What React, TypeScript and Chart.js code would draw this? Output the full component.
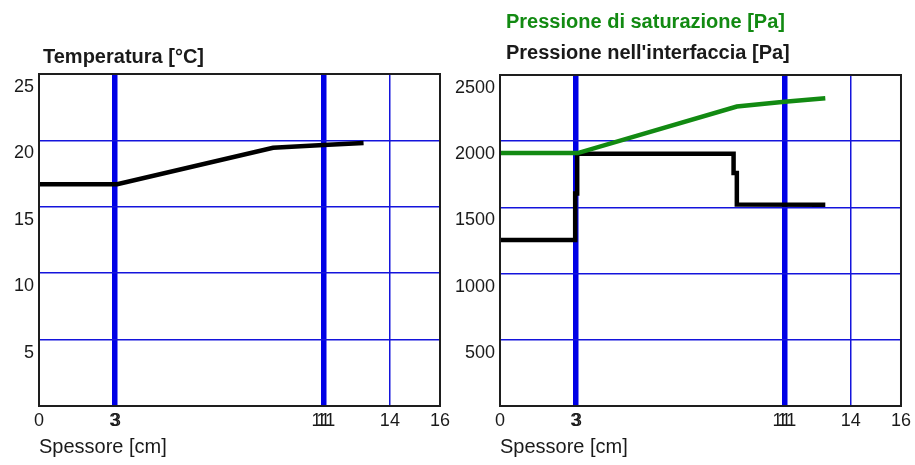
import React, { useEffect, useRef } from 'react';
import { Chart, registerables } from 'chart.js';

Chart.register(...registerables);

// ---- data ----
const xTickValues = [0, 3.0, 3.04, 3.07, 11.25, 11.35, 11.45, 14, 16];
const xTickLabels = ['0', '3', '', '3', '11', '', '11', '14', '16'];
const layerLines = [3.04, 11.35];
const thinGrid = [14];

const tempX = [0, 3.0, 3.12, 9.34, 11.35, 12.95];
const tempY = [16.7, 16.7, 16.7, 19.45, 19.65, 19.8];

const satX = [0, 3.1, 9.45, 11.35, 12.98];
const satY = [1910, 1910, 2262, 2298, 2325];

const ifaceX = [0, 3.0, 3.0, 3.08, 3.08, 9.32, 9.32, 9.45, 9.45, 12.98];
const ifaceY = [1253, 1253, 1605, 1605, 1905, 1905, 1760, 1760, 1522, 1520];

const tempTicks = [0, 5, 10, 15, 20, 25];
const pressTicks = [0, 500, 1000, 1500, 2000, 2500];

const FONT = '"Liberation Sans", Arial, sans-serif';
const TEXT = '#1a1a1a';
const GREEN = '#128a12';
const BLUE_THIN = '#1414dc';
const BLUE_THICK = '#0000e6';

const framePlugin = {
  id: 'frame',
  afterDatasetsDraw(chart: any) {
    const { ctx, chartArea: a } = chart;
    ctx.save();
    ctx.strokeStyle = '#1e1e1e';
    ctx.lineWidth = 2;
    ctx.strokeRect(a.left, a.top, a.right - a.left, a.bottom - a.top);
    ctx.restore();
  },
};

function pts(xs: number[], ys: number[]) {
  return xs.map((x, i) => ({ x, y: ys[i] }));
}

function makeConfig(
  datasets: any[],
  yTicks: number[],
  yWidth: number,
  padTop: number,
  padRight: number
): any {
  return {
    type: 'line',
    data: { datasets },
    options: {
      responsive: false,
      animation: false,
      devicePixelRatio: 1,
      layout: { padding: { top: padTop, right: padRight, left: 0, bottom: 0 } },
      plugins: { legend: { display: false }, tooltip: { enabled: false } },
      elements: { point: { radius: 0 }, line: { tension: 0 } },
      scales: {
        x: {
          type: 'linear',
          min: 0,
          max: 16,
          afterBuildTicks: (s: any) => {
            s.ticks = xTickValues.map((v) => ({ value: v }));
          },
          afterFit: (s: any) => {
            s.height = 59;
          },
          ticks: {
            autoSkip: false,
            maxRotation: 0,
            minRotation: 0,
            padding: 4,
            color: TEXT,
            font: { family: FONT, size: 18 },
            callback: (_v: any, i: number) => xTickLabels[i],
          },
          grid: {
            drawTicks: false,
            color: (c: any) => {
              const v = c.tick && c.tick.value;
              if (layerLines.includes(v)) return BLUE_THICK;
              if (thinGrid.includes(v)) return BLUE_THIN;
              return 'rgba(0,0,0,0)';
            },
            lineWidth: (c: any) => {
              const v = c.tick && c.tick.value;
              return layerLines.includes(v) ? 5.5 : 1.5;
            },
          },
          border: { display: false },
          title: {
            display: true,
            text: 'Spessore [cm]',
            align: 'start',
            color: TEXT,
            font: { family: FONT, size: 20 },
            padding: { top: 0, bottom: 6 },
          },
        },
        y: {
          type: 'linear',
          min: yTicks[0],
          max: yTicks[yTicks.length - 1],
          afterBuildTicks: (s: any) => {
            s.ticks = yTicks.map((v) => ({ value: v }));
          },
          afterFit: (s: any) => {
            s.width = yWidth;
          },
          ticks: {
            padding: 5,
            labelOffset: 13,
            color: TEXT,
            font: { family: FONT, size: 18 },
            callback: (v: any) => (v === 0 ? '' : String(v)),
          },
          grid: {
            drawTicks: false,
            color: (c: any) => {
              const v = c.tick && c.tick.value;
              if (v === yTicks[0] || v === yTicks[yTicks.length - 1]) return 'rgba(0,0,0,0)';
              return BLUE_THIN;
            },
            lineWidth: 1.5,
          },
          border: { display: false },
        },
      },
    },
    plugins: [framePlugin],
  };
}

export default function App() {
  const leftRef = useRef<HTMLCanvasElement>(null);
  const rightRef = useRef<HTMLCanvasElement>(null);

  useEffect(() => {
    Chart.defaults.font.family = FONT;
    const c1 = new Chart(
      leftRef.current as HTMLCanvasElement,
      makeConfig(
        [
          {
            label: 'Temperatura [°C]',
            data: pts(tempX, tempY),
            borderColor: '#000',
            borderWidth: 4.5,
          },
        ],
        tempTicks,
        39,
        74,
        15
      )
    );
    const c2 = new Chart(
      rightRef.current as HTMLCanvasElement,
      makeConfig(
        [
          {
            label: 'Pressione di saturazione [Pa]',
            data: pts(satX, satY),
            borderColor: GREEN,
            borderWidth: 4.5,
          },
          {
            label: "Pressione nell'interfaccia [Pa]",
            data: pts(ifaceX, ifaceY),
            borderColor: '#000',
            borderWidth: 4.5,
          },
        ],
        pressTicks,
        54,
        75,
        14
      )
    );
    return () => {
      c1.destroy();
      c2.destroy();
    };
  }, []);

  const titleStyle: React.CSSProperties = {
    position: 'absolute',
    fontFamily: FONT,
    fontWeight: 'bold',
    fontSize: 20,
    lineHeight: '24px',
    whiteSpace: 'nowrap',
  };

  return (
    <div
      style={{
        position: 'fixed',
        left: 0,
        top: 0,
        width: 915,
        height: 465,
        background: '#fff',
        overflow: 'hidden',
      }}
    >
      <canvas
        ref={leftRef}
        width={455}
        height={465}
        style={{ position: 'absolute', left: 0, top: 0, width: 455, height: 465 }}
      />
      <canvas
        ref={rightRef}
        width={469}
        height={465}
        style={{ position: 'absolute', left: 446, top: 0, width: 469, height: 465 }}
      />
      <div style={{ ...titleStyle, left: 43, top: 44, color: TEXT }}>Temperatura [°C]</div>
      <div style={{ ...titleStyle, left: 506, top: 9, color: GREEN }}>Pressione di saturazione [Pa]</div>
      <div style={{ ...titleStyle, left: 506, top: 40, color: TEXT }}>Pressione nell'interfaccia [Pa]</div>
    </div>
  );
}
